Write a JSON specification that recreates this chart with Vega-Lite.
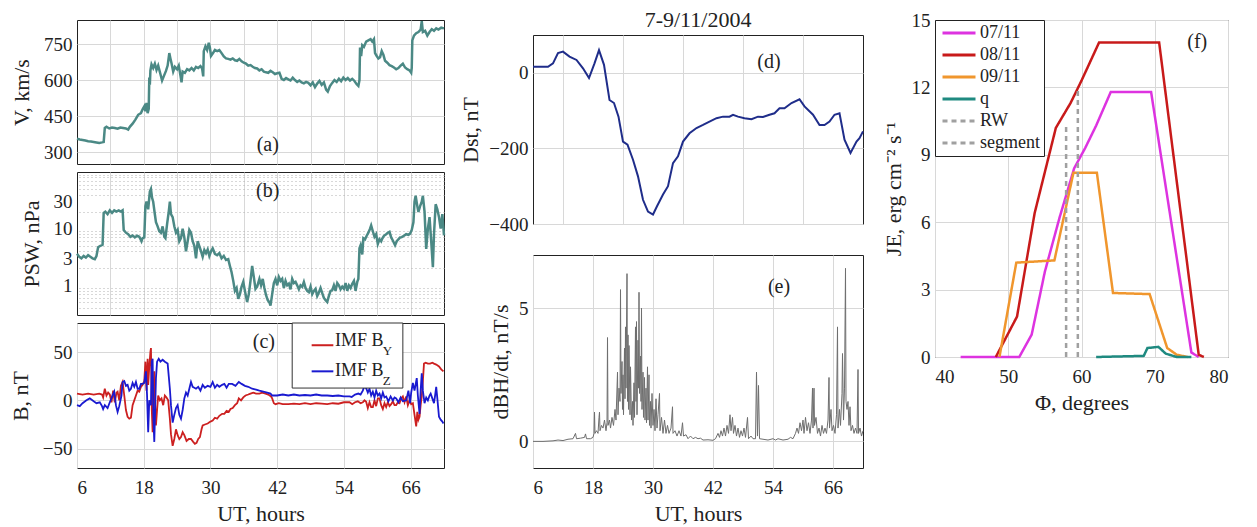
{
"$schema": "https://vega.github.io/schema/vega-lite/v6.json",
"padding": {"left": 8, "top": 8, "right": 5, "bottom": 5},
"background": "white",
"config": {
 "font": "Liberation Serif",
 "view": {"stroke": "#222", "strokeWidth": 1},
 "axis": {"labelFont": "Liberation Serif", "titleFont": "Liberation Serif", "labelFontSize": 19, "titleFontSize": 22, "titleFontWeight": "normal", "labelColor": "#222", "titleColor": "#222", "grid": true, "gridColor": "#d8d8d8", "domain": false, "ticks": false, "labelPadding": 5, "titlePadding": 6, "labelOverlap": false},
 "axisX": {"labelPadding": 10},
 "text": {"font": "Liberation Serif", "fontSize": 20, "color": "#222"},
 "title": {"font": "Liberation Serif", "fontSize": 22, "fontWeight": "normal", "color": "#222"},
 "legend": {"orient": "none", "legendX": 0, "legendY": 0, "offset": 0, "strokeColor": "#222", "fillColor": "white", "padding": 4, "labelFont": "Liberation Serif", "labelFontSize": 18, "labelColor": "#222", "symbolType": "M-1,0H5", "symbolStrokeWidth": 3, "symbolSize": 121, "rowPadding": 4, "labelOffset": 23, "title": null}
},
"datasets": {
 "V": [
 {"t":6.0,"v":355},{"t":6.5,"v":352},{"t":7.0,"v":350},{"t":7.5,"v":348},{"t":8.0,"v":345},{"t":8.5,"v":344},{"t":9.0,"v":342},{"t":9.5,"v":340},{"t":10.0,"v":338},{"t":10.5,"v":340},{"t":10.8,"v":342},{"t":11.0,"v":400},{"t":11.3,"v":405},{"t":11.8,"v":398},{"t":12.3,"v":402},{"t":12.8,"v":400},{"t":13.3,"v":397},{"t":13.8,"v":402},{"t":14.3,"v":400},{"t":14.8,"v":398},{"t":15.2,"v":393},{"t":15.5,"v":405},{"t":16.0,"v":418},{"t":16.5,"v":435},{"t":17.0,"v":455},{"t":17.5,"v":462},{"t":17.8,"v":478},{"t":18.1,"v":490},{"t":18.3,"v":470},{"t":18.5,"v":505},{"t":18.7,"v":462},{"t":18.9,"v":480},{"t":19.0,"v":610},{"t":19.1,"v":580},{"t":19.2,"v":640},{"t":19.4,"v":665},{"t":19.7,"v":650},{"t":20.0,"v":668},{"t":20.3,"v":642},{"t":20.6,"v":660},{"t":21.0,"v":625},{"t":21.3,"v":598},{"t":21.6,"v":615},{"t":22.0,"v":638},{"t":22.3,"v":660},{"t":22.6,"v":712},{"t":22.8,"v":690},{"t":23.0,"v":670},{"t":23.3,"v":635},{"t":23.6,"v":655},{"t":24.0,"v":645},{"t":24.3,"v":660},{"t":24.6,"v":620},{"t":24.8,"v":590},{"t":25.0,"v":635},{"t":25.4,"v":630},{"t":25.8,"v":645},{"t":26.2,"v":640},{"t":26.6,"v":650},{"t":27.0,"v":640},{"t":27.4,"v":655},{"t":27.8,"v":650},{"t":28.2,"v":658},{"t":28.5,"v":648},{"t":28.7,"v":615},{"t":28.8,"v":720},{"t":29.1,"v":740},{"t":29.4,"v":725},{"t":29.7,"v":755},{"t":29.9,"v":735},{"t":30.1,"v":700},{"t":30.4,"v":710},{"t":30.8,"v":725},{"t":31.2,"v":720},{"t":31.6,"v":725},{"t":32.0,"v":712},{"t":32.4,"v":698},{"t":32.8,"v":690},{"t":33.2,"v":688},{"t":33.6,"v":685},{"t":34.0,"v":690},{"t":34.4,"v":682},{"t":34.8,"v":680},{"t":35.2,"v":688},{"t":35.6,"v":678},{"t":36.0,"v":672},{"t":36.4,"v":668},{"t":36.8,"v":660},{"t":37.2,"v":662},{"t":37.6,"v":655},{"t":38.0,"v":650},{"t":38.4,"v":648},{"t":38.8,"v":640},{"t":39.2,"v":645},{"t":39.6,"v":635},{"t":40.0,"v":632},{"t":40.4,"v":630},{"t":40.8,"v":638},{"t":41.2,"v":632},{"t":41.6,"v":625},{"t":42.0,"v":628},{"t":42.4,"v":630},{"t":42.8,"v":605},{"t":43.2,"v":600},{"t":43.6,"v":608},{"t":44.0,"v":603},{"t":44.4,"v":598},{"t":44.8,"v":610},{"t":45.2,"v":600},{"t":45.6,"v":592},{"t":46.0,"v":598},{"t":46.4,"v":590},{"t":46.8,"v":586},{"t":47.2,"v":592},{"t":47.6,"v":588},{"t":48.0,"v":578},{"t":48.4,"v":590},{"t":48.8,"v":570},{"t":49.2,"v":585},{"t":49.6,"v":596},{"t":50.0,"v":580},{"t":50.4,"v":590},{"t":50.8,"v":560},{"t":51.1,"v":552},{"t":51.5,"v":575},{"t":51.9,"v":588},{"t":52.3,"v":600},{"t":52.7,"v":592},{"t":53.1,"v":605},{"t":53.5,"v":595},{"t":53.9,"v":610},{"t":54.3,"v":600},{"t":54.7,"v":608},{"t":55.1,"v":598},{"t":55.5,"v":605},{"t":55.9,"v":596},{"t":56.3,"v":582},{"t":56.6,"v":575},{"t":56.8,"v":600},{"t":56.9,"v":735},{"t":57.1,"v":700},{"t":57.3,"v":745},{"t":57.6,"v":738},{"t":58.0,"v":760},{"t":58.4,"v":765},{"t":58.8,"v":770},{"t":59.1,"v":760},{"t":59.4,"v":770},{"t":59.6,"v":712},{"t":59.9,"v":700},{"t":60.2,"v":690},{"t":60.5,"v":695},{"t":60.8,"v":720},{"t":61.1,"v":705},{"t":61.4,"v":680},{"t":61.8,"v":672},{"t":62.2,"v":662},{"t":62.6,"v":658},{"t":63.0,"v":652},{"t":63.4,"v":645},{"t":63.8,"v":650},{"t":64.2,"v":660},{"t":64.6,"v":668},{"t":65.0,"v":652},{"t":65.4,"v":645},{"t":65.8,"v":640},{"t":66.1,"v":630},{"t":66.2,"v":650},{"t":66.3,"v":765},{"t":66.6,"v":785},{"t":67.0,"v":795},{"t":67.4,"v":800},{"t":67.8,"v":810},{"t":68.0,"v":845},{"t":68.2,"v":800},{"t":68.6,"v":805},{"t":69.0,"v":785},{"t":69.4,"v":800},{"t":69.8,"v":812},{"t":70.2,"v":805},{"t":70.6,"v":815},{"t":71.0,"v":810},{"t":71.5,"v":818},{"t":72.0,"v":815}
 ],
 "P": [
 {"t":6.0,"p":3.6},{"t":6.4,"p":3.2},{"t":6.8,"p":3.0},{"t":7.2,"p":3.3},{"t":7.6,"p":3.1},{"t":8.0,"p":3.4},{"t":8.4,"p":3.2},{"t":8.8,"p":3.0},{"t":9.2,"p":2.9},{"t":9.5,"p":3.3},{"t":9.8,"p":4.7},{"t":10.2,"p":5.0},{"t":10.6,"p":5.2},{"t":10.8,"p":19},{"t":11.1,"p":20},{"t":11.5,"p":18},{"t":11.9,"p":21},{"t":12.3,"p":19},{"t":12.7,"p":21},{"t":13.1,"p":20},{"t":13.5,"p":21},{"t":13.9,"p":20},{"t":14.2,"p":21},{"t":14.4,"p":9.5},{"t":14.8,"p":8.5},{"t":15.2,"p":8.0},{"t":15.6,"p":7.2},{"t":16.0,"p":7.6},{"t":16.4,"p":7.0},{"t":16.8,"p":7.5},{"t":17.2,"p":7.2},{"t":17.6,"p":6.0},{"t":17.8,"p":6.8},{"t":18.1,"p":7.0},{"t":18.3,"p":25},{"t":18.5,"p":30},{"t":18.8,"p":22},{"t":19.1,"p":45},{"t":19.3,"p":50},{"t":19.5,"p":35},{"t":19.7,"p":30},{"t":20.0,"p":18},{"t":20.2,"p":13},{"t":20.5,"p":11},{"t":20.8,"p":9},{"t":21.1,"p":8.5},{"t":21.4,"p":11},{"t":21.7,"p":7.2},{"t":21.9,"p":6.8},{"t":22.2,"p":12},{"t":22.5,"p":20},{"t":22.7,"p":30},{"t":22.9,"p":18},{"t":23.2,"p":16},{"t":23.5,"p":11},{"t":23.8,"p":8.5},{"t":24.1,"p":9.5},{"t":24.4,"p":6},{"t":24.7,"p":6.8},{"t":25.0,"p":10},{"t":25.3,"p":7},{"t":25.6,"p":4},{"t":25.9,"p":6},{"t":26.2,"p":9.5},{"t":26.5,"p":8.5},{"t":26.8,"p":6},{"t":27.1,"p":5},{"t":27.4,"p":3},{"t":27.7,"p":6},{"t":28.0,"p":4.9},{"t":28.3,"p":4},{"t":28.6,"p":3.2},{"t":28.9,"p":4.2},{"t":29.2,"p":3.7},{"t":29.5,"p":4.3},{"t":29.8,"p":3.3},{"t":30.1,"p":4.0},{"t":30.4,"p":4.5},{"t":30.8,"p":3.6},{"t":31.2,"p":3.4},{"t":31.6,"p":3.7},{"t":32.0,"p":3.0},{"t":32.4,"p":3.3},{"t":32.8,"p":2.8},{"t":33.2,"p":2.9},{"t":33.5,"p":2.2},{"t":33.8,"p":1.7},{"t":34.1,"p":1.2},{"t":34.4,"p":0.8},{"t":34.7,"p":0.9},{"t":35.0,"p":0.58},{"t":35.3,"p":0.7},{"t":35.6,"p":0.95},{"t":35.9,"p":1.15},{"t":36.2,"p":0.8},{"t":36.6,"p":0.51},{"t":36.9,"p":0.7},{"t":37.2,"p":1.2},{"t":37.5,"p":2.2},{"t":37.8,"p":1.4},{"t":38.1,"p":0.87},{"t":38.4,"p":0.95},{"t":38.8,"p":1.3},{"t":39.1,"p":1.0},{"t":39.4,"p":1.3},{"t":39.7,"p":0.9},{"t":40.0,"p":0.67},{"t":40.3,"p":0.55},{"t":40.6,"p":0.5},{"t":40.8,"p":0.44},{"t":41.1,"p":0.7},{"t":41.4,"p":1.1},{"t":41.7,"p":1.3},{"t":42.0,"p":1.0},{"t":42.3,"p":1.4},{"t":42.6,"p":1.2},{"t":42.9,"p":1.3},{"t":43.2,"p":0.9},{"t":43.5,"p":1.2},{"t":43.8,"p":1.0},{"t":44.1,"p":1.07},{"t":44.4,"p":0.85},{"t":44.7,"p":1.3},{"t":45.0,"p":1.1},{"t":45.3,"p":1.15},{"t":45.6,"p":1.0},{"t":45.9,"p":0.85},{"t":46.2,"p":1.0},{"t":46.5,"p":0.94},{"t":46.8,"p":1.15},{"t":47.1,"p":0.9},{"t":47.4,"p":0.8},{"t":47.7,"p":0.76},{"t":48.0,"p":0.95},{"t":48.3,"p":0.7},{"t":48.6,"p":0.8},{"t":48.9,"p":0.87},{"t":49.2,"p":0.65},{"t":49.5,"p":0.75},{"t":49.8,"p":0.9},{"t":50.1,"p":0.73},{"t":50.4,"p":0.6},{"t":50.7,"p":0.55},{"t":51.0,"p":0.51},{"t":51.3,"p":0.65},{"t":51.6,"p":0.8},{"t":51.9,"p":0.82},{"t":52.2,"p":1.0},{"t":52.5,"p":0.8},{"t":52.8,"p":1.1},{"t":53.1,"p":1.0},{"t":53.4,"p":0.85},{"t":53.7,"p":0.95},{"t":54.0,"p":0.87},{"t":54.3,"p":1.1},{"t":54.6,"p":0.8},{"t":54.9,"p":1.0},{"t":55.2,"p":0.9},{"t":55.5,"p":1.07},{"t":55.8,"p":1.2},{"t":56.1,"p":0.8},{"t":56.4,"p":1.15},{"t":56.6,"p":1.3},{"t":56.8,"p":4.5},{"t":57.0,"p":5.1},{"t":57.3,"p":3.5},{"t":57.5,"p":6.8},{"t":57.8,"p":6.5},{"t":58.1,"p":7.5},{"t":58.4,"p":8.5},{"t":58.7,"p":10},{"t":58.9,"p":11.4},{"t":59.2,"p":9},{"t":59.5,"p":7.2},{"t":59.8,"p":8},{"t":60.1,"p":5.4},{"t":60.4,"p":6.5},{"t":60.7,"p":6.0},{"t":60.9,"p":6.7},{"t":61.2,"p":7.5},{"t":61.6,"p":8.0},{"t":61.9,"p":8.5},{"t":62.2,"p":8.8},{"t":62.5,"p":7.0},{"t":62.8,"p":6.2},{"t":63.2,"p":5.1},{"t":63.5,"p":6.0},{"t":63.8,"p":6.5},{"t":64.1,"p":7.0},{"t":64.4,"p":7.1},{"t":64.8,"p":7.5},{"t":65.2,"p":8.0},{"t":65.6,"p":7.8},{"t":65.9,"p":8.2},{"t":66.2,"p":9.5},{"t":66.5,"p":13},{"t":66.7,"p":30},{"t":66.9,"p":38},{"t":67.2,"p":25},{"t":67.4,"p":19.7},{"t":67.7,"p":25},{"t":68.0,"p":30},{"t":68.2,"p":38},{"t":68.5,"p":20},{"t":68.8,"p":4.4},{"t":69.1,"p":10},{"t":69.4,"p":16},{"t":69.7,"p":6},{"t":70.0,"p":2.1},{"t":70.2,"p":8},{"t":70.5,"p":27},{"t":70.8,"p":22},{"t":71.1,"p":16},{"t":71.4,"p":10},{"t":71.7,"p":18},{"t":72.0,"p":7.6}
 ],
 "By": [
 {"t":6,"b":7},{"t":7,"b":6},{"t":8,"b":7},{"t":9,"b":6},{"t":10,"b":7},{"t":10.5,"b":6},{"t":10.7,"b":3},{"t":11,"b":12},{"t":11.3,"b":5},{"t":11.6,"b":8},{"t":11.9,"b":6},{"t":12.2,"b":-2},{"t":12.5,"b":10},{"t":12.8,"b":-2},{"t":13.1,"b":8},{"t":13.3,"b":9},{"t":13.6,"b":0},{"t":13.9,"b":15},{"t":14.2,"b":19},{"t":14.5,"b":5},{"t":14.8,"b":-10},{"t":15.1,"b":-17},{"t":15.4,"b":-19},{"t":15.7,"b":-18},{"t":16.0,"b":-5},{"t":16.3,"b":0},{"t":16.6,"b":5},{"t":16.9,"b":10},{"t":17.2,"b":9},{"t":17.5,"b":14},{"t":17.8,"b":16},{"t":18.1,"b":20},{"t":18.3,"b":40},{"t":18.5,"b":10},{"t":18.7,"b":43},{"t":18.8,"b":16},{"t":19.0,"b":35},{"t":19.2,"b":50},{"t":19.3,"b":54},{"t":19.45,"b":-10},{"t":19.6,"b":-33},{"t":19.75,"b":10},{"t":19.9,"b":30},{"t":20.05,"b":-5},{"t":20.2,"b":-26},{"t":20.4,"b":-10},{"t":20.6,"b":5},{"t":20.9,"b":0},{"t":21.2,"b":2},{"t":21.5,"b":-5},{"t":21.8,"b":5},{"t":22.1,"b":3},{"t":22.4,"b":0},{"t":22.7,"b":-19},{"t":22.9,"b":-35},{"t":23.2,"b":-47},{"t":23.5,"b":-40},{"t":23.8,"b":-30},{"t":24.1,"b":-36},{"t":24.4,"b":-40},{"t":24.7,"b":-38},{"t":25.0,"b":-33},{"t":25.3,"b":-36},{"t":25.7,"b":-42},{"t":26.1,"b":-40},{"t":26.5,"b":-40},{"t":26.9,"b":-43},{"t":27.2,"b":-45},{"t":27.5,"b":-44},{"t":27.8,"b":-40},{"t":28.1,"b":-38},{"t":28.4,"b":-30},{"t":28.6,"b":-26},{"t":29.0,"b":-25},{"t":29.5,"b":-24},{"t":30.0,"b":-22},{"t":30.4,"b":-21},{"t":30.8,"b":-18},{"t":31.2,"b":-19},{"t":31.6,"b":-16},{"t":32.1,"b":-14},{"t":32.5,"b":-14},{"t":32.9,"b":-11},{"t":33.3,"b":-12},{"t":33.6,"b":-9},{"t":34.0,"b":-8},{"t":34.4,"b":-5},{"t":34.8,"b":-3},{"t":35.1,"b":2},{"t":35.5,"b":0},{"t":35.9,"b":3},{"t":36.3,"b":5},{"t":36.8,"b":6},{"t":37.2,"b":7},{"t":37.7,"b":8},{"t":38.2,"b":7},{"t":38.8,"b":7},{"t":39.3,"b":8},{"t":39.9,"b":7},{"t":40.4,"b":6},{"t":40.9,"b":4},{"t":41.1,"b":2},{"t":41.4,"b":-3},{"t":41.7,"b":-4},{"t":42.3,"b":-3},{"t":43,"b":-4},{"t":44,"b":-4},{"t":45,"b":-3.5},{"t":46,"b":-4},{"t":47,"b":-3},{"t":48,"b":-4},{"t":49,"b":-3},{"t":50,"b":-3.5},{"t":51,"b":-4},{"t":52,"b":-3},{"t":53,"b":-3.5},{"t":54,"b":-2},{"t":55,"b":-2},{"t":55.5,"b":-4},{"t":56,"b":-2},{"t":56.5,"b":-1},{"t":57,"b":-3},{"t":57.4,"b":-2},{"t":57.7,"b":0},{"t":58.0,"b":-1.4},{"t":58.3,"b":-8},{"t":58.6,"b":-2},{"t":58.9,"b":-7},{"t":59.2,"b":-7},{"t":59.5,"b":0},{"t":59.8,"b":-6},{"t":60.1,"b":2},{"t":60.4,"b":2},{"t":60.7,"b":-5},{"t":61.0,"b":-9},{"t":61.3,"b":-3},{"t":61.6,"b":-7},{"t":61.9,"b":-2},{"t":62.2,"b":-6},{"t":62.5,"b":-4},{"t":62.8,"b":-1},{"t":63.1,"b":-5},{"t":63.4,"b":-5},{"t":63.7,"b":-2},{"t":64.0,"b":-3},{"t":64.3,"b":2},{"t":64.6,"b":4},{"t":64.9,"b":-2},{"t":65.2,"b":4},{"t":65.5,"b":-5},{"t":65.8,"b":0},{"t":66.1,"b":-4},{"t":66.4,"b":-3},{"t":66.7,"b":-15},{"t":67.0,"b":-27},{"t":67.2,"b":-12},{"t":67.4,"b":-20},{"t":67.6,"b":-17},{"t":67.8,"b":-5},{"t":68.0,"b":4},{"t":68.2,"b":20},{"t":68.4,"b":38},{"t":68.7,"b":39},{"t":69.1,"b":38},{"t":69.5,"b":38},{"t":69.9,"b":39},{"t":70.2,"b":38},{"t":70.6,"b":37},{"t":71.1,"b":35},{"t":71.5,"b":32},{"t":71.9,"b":30}
 ],
 "Bz": [
 {"t":6,"b":-5},{"t":6.5,"b":-6},{"t":7,"b":-3},{"t":7.7,"b":0},{"t":8.3,"b":2},{"t":9,"b":-1},{"t":9.5,"b":-3},{"t":10.1,"b":-2},{"t":10.5,"b":-6},{"t":10.7,"b":-9},{"t":11,"b":-5},{"t":11.5,"b":-8},{"t":11.9,"b":-2},{"t":12.4,"b":5},{"t":12.7,"b":9},{"t":13.0,"b":-5},{"t":13.3,"b":-12},{"t":13.6,"b":-6},{"t":14.0,"b":5},{"t":14.2,"b":19},{"t":14.5,"b":20},{"t":14.8,"b":15},{"t":15.1,"b":16},{"t":15.4,"b":10},{"t":15.7,"b":12},{"t":16.0,"b":18},{"t":16.3,"b":14},{"t":16.6,"b":19},{"t":16.9,"b":12},{"t":17.2,"b":12},{"t":17.5,"b":17},{"t":17.8,"b":17},{"t":18.1,"b":18},{"t":18.4,"b":30},{"t":18.6,"b":5},{"t":18.8,"b":-33},{"t":19.0,"b":0},{"t":19.3,"b":-5},{"t":19.45,"b":40},{"t":19.6,"b":43},{"t":19.75,"b":-20},{"t":19.9,"b":-43},{"t":20.05,"b":-10},{"t":20.2,"b":23},{"t":20.4,"b":40},{"t":20.7,"b":43},{"t":21.0,"b":40},{"t":21.4,"b":42},{"t":21.8,"b":40},{"t":22.3,"b":38},{"t":22.5,"b":25},{"t":22.7,"b":12},{"t":22.9,"b":-5},{"t":23.2,"b":-23},{"t":23.5,"b":-15},{"t":23.8,"b":-8},{"t":24.1,"b":-5},{"t":24.4,"b":-15},{"t":24.7,"b":-19},{"t":25.0,"b":-10},{"t":25.3,"b":2},{"t":25.6,"b":8},{"t":25.9,"b":5},{"t":26.2,"b":12},{"t":26.5,"b":19},{"t":26.8,"b":14},{"t":27.1,"b":13},{"t":27.4,"b":12},{"t":27.8,"b":14},{"t":28.2,"b":10},{"t":28.6,"b":16},{"t":29.0,"b":13},{"t":29.5,"b":15},{"t":30.0,"b":14},{"t":30.4,"b":19},{"t":30.8,"b":13},{"t":31.2,"b":16},{"t":31.6,"b":14},{"t":32.1,"b":16},{"t":32.5,"b":17},{"t":32.9,"b":13},{"t":33.3,"b":17},{"t":33.9,"b":17},{"t":34.5,"b":15},{"t":35.1,"b":19},{"t":35.6,"b":17},{"t":36.2,"b":15},{"t":36.8,"b":14},{"t":37.5,"b":12},{"t":38.2,"b":11},{"t":38.8,"b":10},{"t":39.5,"b":9},{"t":40.2,"b":8},{"t":40.8,"b":7},{"t":41.1,"b":5},{"t":42,"b":5},{"t":43,"b":6},{"t":44,"b":5},{"t":45,"b":6},{"t":46,"b":5},{"t":47,"b":5.5},{"t":48,"b":5},{"t":49,"b":6},{"t":50,"b":5},{"t":51,"b":5},{"t":52,"b":4.5},{"t":53,"b":5},{"t":54,"b":4},{"t":55,"b":4},{"t":55.4,"b":3.5},{"t":56,"b":6},{"t":56.6,"b":7},{"t":57,"b":6},{"t":57.4,"b":10},{"t":57.7,"b":15},{"t":58.0,"b":12.5},{"t":58.3,"b":8},{"t":58.6,"b":12},{"t":58.9,"b":5},{"t":59.2,"b":9},{"t":59.5,"b":3},{"t":59.8,"b":10},{"t":60.1,"b":5},{"t":60.4,"b":7},{"t":60.7,"b":2},{"t":61.0,"b":8},{"t":61.3,"b":3},{"t":61.6,"b":4},{"t":62.0,"b":-1},{"t":62.4,"b":4},{"t":62.8,"b":0},{"t":63.1,"b":3},{"t":63.4,"b":2},{"t":63.8,"b":-2},{"t":64.2,"b":3},{"t":64.6,"b":-1},{"t":65.2,"b":0},{"t":65.6,"b":10},{"t":65.9,"b":-3},{"t":66.1,"b":8},{"t":66.4,"b":18},{"t":66.7,"b":10},{"t":67.1,"b":23},{"t":67.3,"b":5},{"t":67.6,"b":-14},{"t":67.8,"b":10},{"t":68.0,"b":28},{"t":68.2,"b":10},{"t":68.5,"b":-3},{"t":68.8,"b":3},{"t":69.1,"b":0},{"t":69.4,"b":5},{"t":69.6,"b":7},{"t":69.9,"b":2},{"t":70.2,"b":-3},{"t":70.4,"b":5},{"t":70.6,"b":14},{"t":70.8,"b":2},{"t":71.1,"b":-17},{"t":71.4,"b":-20},{"t":71.7,"b":-22},{"t":71.9,"b":-24}
 ],
 "Dst": [
 {"t":6,"d":16},{"t":9,"d":16},{"t":10,"d":25},{"t":11,"d":52},{"t":12,"d":56},{"t":13.3,"d":43},{"t":14.7,"d":34},{"t":16,"d":12},{"t":17.2,"d":-14},{"t":18.3,"d":25},{"t":19.2,"d":60},{"t":20.2,"d":21},{"t":21.3,"d":-72},{"t":22.2,"d":-80},{"t":23.1,"d":-116},{"t":24,"d":-182},{"t":24.9,"d":-190},{"t":26,"d":-230},{"t":27,"d":-274},{"t":28,"d":-336},{"t":29,"d":-367},{"t":30,"d":-375},{"t":30.8,"d":-353},{"t":32,"d":-322},{"t":33,"d":-300},{"t":34,"d":-239},{"t":35,"d":-221},{"t":36,"d":-182},{"t":37.3,"d":-160},{"t":38.7,"d":-146},{"t":40,"d":-138},{"t":41.3,"d":-129},{"t":42.7,"d":-120},{"t":44,"d":-116},{"t":45.3,"d":-116},{"t":46,"d":-111},{"t":47,"d":-116},{"t":48.3,"d":-120},{"t":49.7,"d":-123},{"t":51,"d":-116},{"t":52,"d":-117},{"t":53.3,"d":-111},{"t":54.3,"d":-107},{"t":55.3,"d":-94},{"t":56.3,"d":-94},{"t":57.7,"d":-80},{"t":59.3,"d":-70},{"t":60.3,"d":-89},{"t":62,"d":-111},{"t":63.3,"d":-138},{"t":64.3,"d":-138},{"t":65.3,"d":-129},{"t":66.3,"d":-111},{"t":67.3,"d":-107},{"t":68.3,"d":-177},{"t":69.5,"d":-212},{"t":70.7,"d":-182},{"t":71.3,"d":-173},{"t":72,"d":-155}
 ],
 "dB": [
 {"t":6,"v":0},{"t":8,"v":0},{"t":10,"v":0.02},{"t":11,"v":0.05},{"t":12,"v":0.03},{"t":13,"v":0.08},{"t":14,"v":0.1},{"t":14.5,"v":0.3},{"t":14.7,"v":0.1},{"t":15.5,"v":0.12},{"t":16.3,"v":0.15},{"t":16.5,"v":0.28},{"t":16.7,"v":0.1},{"t":17.5,"v":0.1},{"t":18.0,"v":0.15},{"t":18.2,"v":0.3},{"t":18.3,"v":1.1},{"t":18.4,"v":0.3},{"t":18.7,"v":0.4},{"t":19.0,"v":0.3},{"t":19.2,"v":0.9},{"t":19.3,"v":1.1},{"t":19.4,"v":0.4},{"t":19.7,"v":0.6},{"t":20.0,"v":0.5},{"t":20.3,"v":0.8},{"t":20.6,"v":0.4},{"t":20.8,"v":0.7},{"t":20.9,"v":3.9},{"t":21.0,"v":0.6},{"t":21.3,"v":0.8},{"t":21.5,"v":0.5},{"t":21.8,"v":0.9},{"t":22.1,"v":0.6},{"t":22.4,"v":1.2},{"t":22.6,"v":0.8},{"t":22.9,"v":2.6},{"t":23.0,"v":1.0},{"t":23.2,"v":2.0},{"t":23.4,"v":1.5},{"t":23.5,"v":5.7},{"t":23.6,"v":1.8},{"t":23.8,"v":3.0},{"t":23.9,"v":1.2},{"t":24.0,"v":2.5},{"t":24.1,"v":1.0},{"t":24.3,"v":3.5},{"t":24.4,"v":1.6},{"t":24.5,"v":4.3},{"t":24.6,"v":2.0},{"t":24.8,"v":6.3},{"t":24.9,"v":1.5},{"t":25.0,"v":4.0},{"t":25.1,"v":1.2},{"t":25.2,"v":3.6},{"t":25.4,"v":1.0},{"t":25.5,"v":2.8},{"t":25.7,"v":0.8},{"t":25.9,"v":1.5},{"t":26.0,"v":0.6},{"t":26.2,"v":2.2},{"t":26.3,"v":0.9},{"t":26.5,"v":4.3},{"t":26.6,"v":1.5},{"t":26.7,"v":4.5},{"t":26.8,"v":1.0},{"t":27.0,"v":3.8},{"t":27.1,"v":2.0},{"t":27.2,"v":5.6},{"t":27.3,"v":1.8},{"t":27.5,"v":3.2},{"t":27.6,"v":1.5},{"t":27.7,"v":5.0},{"t":27.8,"v":1.2},{"t":28.0,"v":2.6},{"t":28.1,"v":0.9},{"t":28.3,"v":2.4},{"t":28.4,"v":0.8},{"t":28.6,"v":2.0},{"t":28.7,"v":0.7},{"t":28.9,"v":2.8},{"t":29.0,"v":0.8},{"t":29.2,"v":2.5},{"t":29.3,"v":0.6},{"t":29.5,"v":1.5},{"t":29.6,"v":0.5},{"t":29.8,"v":1.8},{"t":30.0,"v":0.6},{"t":30.2,"v":1.2},{"t":30.4,"v":0.4},{"t":30.6,"v":1.6},{"t":30.8,"v":0.5},{"t":31.0,"v":1.0},{"t":31.3,"v":1.8},{"t":31.4,"v":0.4},{"t":31.7,"v":0.9},{"t":32.0,"v":0.3},{"t":32.3,"v":0.8},{"t":32.6,"v":0.3},{"t":32.9,"v":0.6},{"t":33.2,"v":0.3},{"t":33.6,"v":0.5},{"t":33.9,"v":1.3},{"t":34.0,"v":0.3},{"t":34.4,"v":0.4},{"t":34.8,"v":0.2},{"t":35.2,"v":0.4},{"t":35.6,"v":0.2},{"t":35.9,"v":0.7},{"t":36.1,"v":0.2},{"t":36.6,"v":0.25},{"t":37.0,"v":0.1},{"t":37.5,"v":0.2},{"t":38.0,"v":0.1},{"t":38.5,"v":0.15},{"t":39.0,"v":0.1},{"t":39.5,"v":0.12},{"t":40.0,"v":0.05},{"t":41,"v":0.06},{"t":42,"v":0.04},{"t":42.5,"v":0.1},{"t":43,"v":0.3},{"t":43.3,"v":0.15},{"t":43.6,"v":0.4},{"t":43.9,"v":0.2},{"t":44.2,"v":0.5},{"t":44.5,"v":0.2},{"t":44.8,"v":0.6},{"t":45.1,"v":0.3},{"t":45.4,"v":1.0},{"t":45.6,"v":0.4},{"t":45.9,"v":0.9},{"t":46.1,"v":0.3},{"t":46.4,"v":0.6},{"t":46.7,"v":0.2},{"t":47.0,"v":0.5},{"t":47.3,"v":0.15},{"t":47.6,"v":0.4},{"t":47.9,"v":0.2},{"t":48.2,"v":0.5},{"t":48.5,"v":0.15},{"t":48.9,"v":0.9},{"t":49.1,"v":0.1},{"t":49.6,"v":0.2},{"t":50.0,"v":0.1},{"t":50.5,"v":0.1},{"t":50.7,"v":2.6},{"t":50.9,"v":0.2},{"t":51.1,"v":2.1},{"t":51.3,"v":0.1},{"t":52,"v":0.08},{"t":53,"v":0.05},{"t":54,"v":0.1},{"t":54.5,"v":0.05},{"t":55,"v":0.1},{"t":56,"v":0.05},{"t":57,"v":0.08},{"t":57.5,"v":0.15},{"t":58,"v":0.1},{"t":58.5,"v":0.3},{"t":58.8,"v":0.5},{"t":59.1,"v":0.3},{"t":59.4,"v":0.7},{"t":59.7,"v":0.4},{"t":60.0,"v":0.8},{"t":60.2,"v":0.3},{"t":60.5,"v":0.9},{"t":60.8,"v":0.4},{"t":61.1,"v":0.7},{"t":61.4,"v":0.3},{"t":61.7,"v":0.8},{"t":61.9,"v":2.0},{"t":62.0,"v":0.5},{"t":62.2,"v":2.0},{"t":62.3,"v":0.6},{"t":62.6,"v":0.9},{"t":62.9,"v":0.3},{"t":63.2,"v":0.5},{"t":63.5,"v":0.2},{"t":63.8,"v":0.6},{"t":64.1,"v":0.3},{"t":64.4,"v":0.5},{"t":64.7,"v":0.3},{"t":65.0,"v":0.8},{"t":65.2,"v":2.4},{"t":65.3,"v":0.5},{"t":65.6,"v":1.2},{"t":65.8,"v":0.4},{"t":66.1,"v":0.6},{"t":66.4,"v":0.3},{"t":66.7,"v":1.0},{"t":66.9,"v":4.3},{"t":67.0,"v":0.5},{"t":67.3,"v":1.2},{"t":67.5,"v":0.6},{"t":67.8,"v":1.8},{"t":67.9,"v":3.3},{"t":68.1,"v":0.8},{"t":68.3,"v":2.0},{"t":68.5,"v":6.5},{"t":68.6,"v":1.5},{"t":68.8,"v":1.2},{"t":69.0,"v":1.5},{"t":69.2,"v":0.6},{"t":69.4,"v":1.3},{"t":69.6,"v":0.4},{"t":69.9,"v":0.6},{"t":70.2,"v":0.3},{"t":70.5,"v":0.5},{"t":70.8,"v":0.3},{"t":71.0,"v":2.7},{"t":71.1,"v":0.3},{"t":71.4,"v":0.5},{"t":71.7,"v":0.2},{"t":72.0,"v":0.4}
 ],
 "JE": [
 {"s":"07/11","phi":43.5,"j":0},{"s":"07/11","phi":51.5,"j":0},{"s":"07/11","phi":53.2,"j":1.0},{"s":"07/11","phi":55,"j":3.8},{"s":"07/11","phi":57,"j":6.2},{"s":"07/11","phi":59,"j":8.4},{"s":"07/11","phi":60.5,"j":9.3},{"s":"07/11","phi":62,"j":10.3},{"s":"07/11","phi":64,"j":11.8},{"s":"07/11","phi":69.5,"j":11.8},{"s":"07/11","phi":75,"j":0.2},{"s":"07/11","phi":76,"j":0},
 {"s":"08/11","phi":48.3,"j":0},{"s":"08/11","phi":51.2,"j":1.8},{"s":"08/11","phi":53.6,"j":6.4},{"s":"08/11","phi":56.5,"j":10.2},{"s":"08/11","phi":58.5,"j":11.3},{"s":"08/11","phi":60,"j":12.3},{"s":"08/11","phi":62.4,"j":14.0},{"s":"08/11","phi":70.6,"j":14.0},{"s":"08/11","phi":76.0,"j":0.1},{"s":"08/11","phi":76.7,"j":0},
 {"s":"09/11","phi":48.8,"j":0},{"s":"09/11","phi":51.1,"j":4.2},{"s":"09/11","phi":56.3,"j":4.3},{"s":"09/11","phi":58.9,"j":8.2},{"s":"09/11","phi":62.1,"j":8.2},{"s":"09/11","phi":64.3,"j":2.85},{"s":"09/11","phi":69.3,"j":2.8},{"s":"09/11","phi":71.7,"j":0.4},{"s":"09/11","phi":73,"j":0.1},{"s":"09/11","phi":74.5,"j":0},
 {"s":"q","phi":62,"j":0},{"s":"q","phi":68.5,"j":0.05},{"s":"q","phi":69,"j":0.4},{"s":"q","phi":70.5,"j":0.45},{"s":"q","phi":71.5,"j":0.15},{"s":"q","phi":73,"j":0},{"s":"q","phi":75,"j":0},
 {"s":"RW","phi":57.9,"j":0},{"s":"RW","phi":57.9,"j":10.4},
 {"s":"segment","phi":59.5,"j":0},{"s":"segment","phi":59.5,"j":12}
 ]
},
"resolve": {"scale": {"color": "independent", "strokeDash": "independent"}, "legend": {"color": "independent", "strokeDash": "independent"}},
"hconcat": [
 {"vconcat": [
  {"width": 367, "height": 144,
   "layer": [
    {"data": {"name": "V"}, "mark": {"type": "line", "color": "#4b8985", "strokeWidth": 2.5},
     "encoding": {
      "x": {"field": "t", "type": "quantitative", "scale": {"domain": [6, 72], "nice": false}, "axis": {"values": [12,18,24,30,36,42,48,54,60,66], "labels": false, "title": null}},
      "y": {"field": "v", "type": "quantitative", "scale": {"domain": [250, 850], "nice": false, "zero": false}, "axis": {"values": [300,450,600,750], "labelOverlap": false, "title": "V, km/s", "titlePadding": 10}}}},
    {"data": {"values": [{}]}, "mark": {"type": "text", "fontSize": 20}, "encoding": {"x": {"datum": 40.3}, "y": {"datum": 330}, "text": {"value": "(a)"}}}
   ]},
  {"width": 367, "height": 143,
   "layer": [
    {"data": {"name": "P"}, "mark": {"type": "line", "opacity": 0},
     "encoding": {
      "x": {"field": "t", "type": "quantitative", "scale": {"domain": [6, 72], "nice": false}, "axis": {"values": [12,18,24,30,36,42,48,54,60,66], "labels": false, "title": null}},
      "y": {"field": "p", "type": "quantitative", "scale": {"type": "log", "domain": [0.3, 100], "nice": false}, "axis": {"orient": "right", "values": [0.4,0.5,0.6,0.7,0.8,0.9,2,4,5,6,7,8,9,20,40,50,60,70,80,90], "labels": false, "title": null, "gridDash": [1, 3], "gridColor": "#b0b0b0"}}}},
    {"data": {"name": "P"}, "mark": {"type": "line", "color": "#4b8985", "strokeWidth": 2.5},
     "encoding": {
      "x": {"field": "t", "type": "quantitative"},
      "y": {"field": "p", "type": "quantitative", "axis": {"orient": "left", "values": [1,3,10,30], "format": "~g", "labelOverlap": false, "title": "PSW, nPa", "titlePadding": 10}}}},
    {"data": {"values": [{}]}, "mark": {"type": "text", "fontSize": 20}, "encoding": {"x": {"datum": 40.3}, "y": {"datum": 47, "axis": null}, "text": {"value": "(b)"}}}
   ],
   "resolve": {"axis": {"y": "independent"}}},
  {"width": 367, "height": 145,
   "layer": [
    {"data": {"name": "By"}, "mark": {"type": "line", "color": "#cc2020", "strokeWidth": 1.8},
     "encoding": {
      "x": {"field": "t", "type": "quantitative", "scale": {"domain": [6, 72], "nice": false}, "axis": {"values": [6,12,18,24,30,36,42,48,54,60,66,72], "labelOverlap": false, "title": "UT, hours"}},
      "y": {"field": "b", "type": "quantitative", "scale": {"domain": [-70, 80], "nice": false}, "axis": {"values": [-50,0,50], "labelOverlap": false, "title": "B, nT", "titlePadding": 10}}}},
    {"data": {"name": "Bz"}, "mark": {"type": "line", "color": "#1a1ad0", "strokeWidth": 1.8},
     "encoding": {"x": {"field": "t", "type": "quantitative"}, "y": {"field": "b", "type": "quantitative"}}},
    {"data": {"values": [{}]}, "mark": {"type": "rect", "fill": "white", "stroke": "#333", "strokeWidth": 1},
     "encoding": {"x": {"datum": 44.7}, "x2": {"datum": 64.6}, "y": {"datum": 80}, "y2": {"datum": 12.7}}},
    {"data": {"values": [{}]}, "mark": {"type": "rule", "color": "#cc2020", "strokeWidth": 2}, "encoding": {"x": {"datum": 48.2}, "x2": {"datum": 52.1}, "y": {"datum": 57}}},
    {"data": {"values": [{}]}, "mark": {"type": "rule", "color": "#1a1ad0", "strokeWidth": 2}, "encoding": {"x": {"datum": 48.2}, "x2": {"datum": 52.1}, "y": {"datum": 30}}},
    {"data": {"values": [{}]}, "mark": {"type": "text", "fontSize": 18, "align": "left", "baseline": "alphabetic"}, "encoding": {"x": {"datum": 52.4}, "y": {"datum": 56}, "text": {"value": "IMF B"}}},
    {"data": {"values": [{}]}, "mark": {"type": "text", "fontSize": 13, "align": "left", "baseline": "alphabetic"}, "encoding": {"x": {"datum": 61.0}, "y": {"datum": 47}, "text": {"value": "Y"}}},
    {"data": {"values": [{}]}, "mark": {"type": "text", "fontSize": 18, "align": "left", "baseline": "alphabetic"}, "encoding": {"x": {"datum": 52.4}, "y": {"datum": 25}, "text": {"value": "IMF B"}}},
    {"data": {"values": [{}]}, "mark": {"type": "text", "fontSize": 13, "align": "left", "baseline": "alphabetic"}, "encoding": {"x": {"datum": 61.0}, "y": {"datum": 16}, "text": {"value": "Z"}}},
    {"data": {"values": [{}]}, "mark": {"type": "text", "fontSize": 20}, "encoding": {"x": {"datum": 39.6}, "y": {"datum": 60}, "text": {"value": "(c)"}}}
   ]}
 ], "spacing": 8, "bounds": "flush"},
 {"hconcat": [
 {"vconcat": [
  {"width": 10, "height": 1, "data": {"values": []}, "mark": {"type": "text"}, "encoding": {}, "view": {"stroke": null, "fill": "white"}},
  {"vconcat": [
    {"width": 330, "height": 189,
     "title": {"text": "7-9/11/2004", "offset": 3},
     "layer": [
      {"data": {"name": "Dst"}, "mark": {"type": "line", "color": "#1f2d8a", "strokeWidth": 2},
       "encoding": {
        "x": {"field": "t", "type": "quantitative", "scale": {"domain": [6, 72], "nice": false}, "axis": {"values": [12,18,24,30,36,42,48,54,60,66], "labels": false, "title": null}},
        "y": {"field": "d", "type": "quantitative", "scale": {"domain": [-400, 100], "nice": false}, "axis": {"values": [-400,-300,-200,-100,0,100], "labelOverlap": false, "title": "Dst, nT"}}}},
      {"data": {"values": [{}]}, "mark": {"type": "text", "fontSize": 20}, "encoding": {"x": {"datum": 53.2}, "y": {"datum": 28}, "text": {"value": "(d)"}}}
     ]},
    {"width": 330, "height": 213,
     "layer": [
      {"data": {"name": "dB"}, "mark": {"type": "line", "color": "#6e6e6e", "strokeWidth": 1},
       "encoding": {
        "x": {"field": "t", "type": "quantitative", "scale": {"domain": [6, 72], "nice": false}, "axis": {"values": [6,12,18,24,30,36,42,48,54,60,66,72], "labelOverlap": false, "title": "UT, hours"}},
        "y": {"field": "v", "type": "quantitative", "scale": {"domain": [-1, 7], "nice": false}, "axis": {"values": [0, 5], "labelOverlap": false, "title": "dBH/dt, nT/s"}}}},
      {"data": {"values": [{}]}, "mark": {"type": "text", "fontSize": 20}, "encoding": {"x": {"datum": 55.2}, "y": {"datum": 5.8}, "text": {"value": "(e)"}}}
     ]}
  ], "spacing": 31, "bounds": "flush"}
 ], "spacing": -13},
  {"width": 293, "height": 337,
   "layer": [
    {"data": {"name": "JE"}, "mark": {"type": "line", "strokeWidth": 2.5},
     "encoding": {
      "x": {"field": "phi", "type": "quantitative", "scale": {"domain": [40, 80], "nice": false}, "axis": {"values": [40,50,60,70,80], "labelOverlap": false, "title": "Φ, degrees"}},
      "y": {"field": "j", "type": "quantitative", "scale": {"domain": [0, 15], "nice": false}, "axis": {"values": [0,3,6,9,12,15], "labelOverlap": false, "title": "JE, erg cm⁻² s⁻¹"}},
      "color": {"field": "s", "type": "nominal", "scale": {"domain": ["07/11","08/11","09/11","q","RW","segment"], "range": ["#dd33e0","#c81a1a","#f0962d","#1f8a80","#a0a0a0","#a0a0a0"]}, "legend": {"title": null, "orient": "none", "legendX": 0, "legendY": 0}},
      "strokeDash": {"field": "s", "type": "nominal", "scale": {"domain": ["07/11","08/11","09/11","q","RW","segment"], "range": [[1,0],[1,0],[1,0],[1,0],[5,4],[5,4]]}, "legend": {"title": null, "orient": "none", "legendX": 0, "legendY": 0}}}},
    {"data": {"values": [{}]}, "mark": {"type": "text", "fontSize": 20}, "encoding": {"x": {"datum": 75.8}, "y": {"datum": 14.0}, "text": {"value": "(f)"}}}
   ]}
 ], "spacing": 13, "resolve": {"scale": {"color": "independent", "strokeDash": "independent"}, "legend": {"color": "independent", "strokeDash": "independent"}}}
],
"spacing": 9
}
